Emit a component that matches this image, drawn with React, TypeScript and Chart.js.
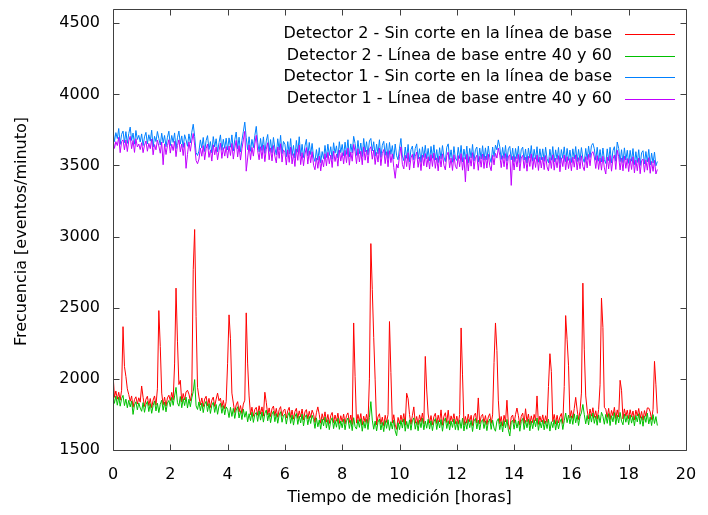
import { useEffect, useRef } from "react";
import { Chart, registerables } from "chart.js";

Chart.register(...registerables);

// time grid: one sample every 0.05 h (3 min), from 0 to 19 h
const STEP_HOURS = 0.05;
const X_TICKS = [0, 2, 4, 6, 8, 10, 12, 14, 16, 18, 20];
const Y_TICKS = [1500, 2000, 2500, 3000, 3500, 4000, 4500];
const X_TITLE = "Tiempo de medición [horas]";
const Y_TITLE = "Frecuencia [eventos/minuto]";

const LABEL_D2_RAW = "Detector 2 - Sin corte en la línea de base";
const LABEL_D2_CUT = "Detector 2 - Línea de base entre 40 y 60";
const LABEL_D1_RAW = "Detector 1 - Sin corte en la línea de base";
const LABEL_D1_CUT = "Detector 1 - Línea de base entre 40 y 60";

// Detector 2 - sin corte (red)
const det2Raw = [
  2041, 1870, 1915, 1857, 1906, 1850, 1920, 2367, 2087, 2017, 1930, 1890, 1842, 1880, 1800, 1855, 1874, 1823, 1867, 1836,
  1950, 1870, 1806, 1857, 1878, 1812, 1862, 1797, 1851, 1880, 1815, 1930, 2480, 2227, 1900, 1818, 1872, 1809, 1866, 1885,
  1847, 1905, 1853, 2105, 2638, 2265, 1960, 1990, 1838, 1897, 1852, 1908, 1920, 1893, 1845, 1902, 2767, 3050, 2439, 1940,
  1873, 1817, 1866, 1805, 1858, 1878, 1811, 1863, 1799, 1850, 1872, 1806, 1857, 1900, 1846, 1865, 1799, 1849, 1790, 1840,
  2110, 2450, 2282, 1900, 1830, 1763, 1817, 1840, 1768, 1812, 1756, 1823, 1850, 2464, 2105, 1880, 1748, 1801, 1737, 1786,
  1800, 1744, 1811, 1752, 1803, 1738, 1906, 1835, 1747, 1796, 1735, 1790, 1809, 1741, 1793, 1730, 1783, 1805, 1737, 1779,
  1787, 1725, 1776, 1800, 1729, 1781, 1717, 1770, 1793, 1722, 1775, 1732, 1788, 1711, 1768, 1784, 1719, 1772, 1728, 1780,
  1752, 1694, 1762, 1803, 1748, 1688, 1755, 1710, 1768, 1696, 1750, 1686, 1742, 1764, 1692, 1746, 1702, 1759, 1687, 1741,
  1698, 1752, 1684, 1742, 1761, 1693, 1746, 1679, 2393, 2016, 1689, 1750, 1701, 1756, 1675, 1738, 1695, 1751, 1686, 2000,
  2951, 2627, 2292, 1993, 1676, 1733, 1755, 1683, 1731, 1671, 1744, 1694, 1750, 2403, 2045, 1689, 1748, 1676, 1645, 1729,
  1685, 1745, 1696, 1756, 1674, 1899, 1860, 1749, 1681, 1742, 1803, 1688, 1736, 1677, 1747, 1699, 1760, 1684, 2158, 1922,
  1753, 1689, 1742, 1678, 1734, 1758, 1686, 1745, 1697, 1782, 1674, 1737, 1762, 1693, 1780, 1682, 1740, 1700, 1755, 1685,
  1738, 1681, 1749, 2358, 2028, 1676, 1736, 1688, 1752, 1699, 1744, 1672, 1740, 1759, 1690, 1866, 1683, 1735, 1751, 1693,
  1742, 1678, 1733, 1755, 1687, 1747, 2115, 2393, 2199, 1850, 1685, 1736, 1669, 1744, 1697, 1850, 1682, 1645, 1731, 1746,
  1688, 1749, 1795, 1741, 1674, 1737, 1759, 1686, 1790, 1698, 1753, 1677, 1740, 1692, 1750, 1705, 1880, 1680, 1738, 1697,
  1747, 1684, 1741, 1693, 1946, 2177, 2051, 1699, 1750, 1682, 1744, 1690, 1733, 1757, 1686, 1946, 2445, 2275, 2092, 1726,
  1777, 1722, 1791, 1870, 1782, 1714, 1773, 1900, 2673, 2204, 1880, 1780, 1718, 1788, 1738, 1797, 1729, 1776, 1716, 1784,
  1958, 2568, 2361, 1800, 1787, 1729, 1793, 1714, 1778, 1740, 1800, 1721, 1782, 1732, 1990, 1920, 1719, 1789, 1737, 1780,
  1720, 1783, 1731, 1774, 1712, 1780, 1739, 1792, 1723, 1771, 1709, 1777, 1736, 1796, 1795, 1768, 1714, 1786, 2123, 1958,
  1757,
];

// Detector 2 - línea de base entre 40 y 60 (green)
const det2Cut = [
  1890, 1828, 1879, 1815, 1872, 1808, 1861, 1884, 1812, 1858, 1797, 1849, 1803, 1845, 1750, 1816, 1839, 1782, 1831, 1795,
  1772, 1833, 1765, 1819, 1842, 1770, 1826, 1758, 1812, 1845, 1774, 1829, 1763, 1821, 1850, 1779, 1836, 1768, 1830, 1848,
  1805, 1870, 1814, 1880, 1940, 1832, 1808, 1876, 1797, 1861, 1812, 1872, 1795, 1857, 1804, 1866, 1910, 1995, 1810, 1785,
  1838, 1776, 1830, 1763, 1821, 1842, 1770, 1826, 1757, 1815, 1835, 1764, 1820, 1751, 1809, 1829, 1758, 1812, 1747, 1803,
  1786, 1728, 1800, 1736, 1793, 1722, 1781, 1804, 1725, 1776, 1714, 1787, 1730, 1771, 1698, 1755, 1706, 1765, 1694, 1750,
  1764, 1701, 1775, 1710, 1767, 1696, 1757, 1781, 1705, 1760, 1692, 1752, 1773, 1699, 1756, 1688, 1746, 1769, 1695, 1743,
  1751, 1682, 1740, 1764, 1687, 1745, 1675, 1733, 1757, 1680, 1738, 1690, 1752, 1669, 1731, 1748, 1677, 1736, 1686, 1744,
  1715, 1652, 1726, 1663, 1711, 1646, 1718, 1669, 1731, 1654, 1713, 1643, 1705, 1727, 1650, 1709, 1660, 1723, 1645, 1704,
  1656, 1716, 1642, 1705, 1725, 1651, 1709, 1636, 1727, 1664, 1647, 1713, 1659, 1720, 1632, 1701, 1653, 1715, 1644, 1729,
  1840, 1710, 1646, 1703, 1634, 1696, 1718, 1641, 1694, 1629, 1707, 1652, 1713, 1638, 1699, 1647, 1711, 1634, 1600, 1692,
  1643, 1708, 1654, 1719, 1632, 1701, 1650, 1712, 1639, 1705, 1726, 1646, 1699, 1635, 1710, 1657, 1723, 1642, 1703, 1653,
  1716, 1647, 1705, 1636, 1697, 1721, 1644, 1708, 1655, 1714, 1632, 1700, 1725, 1651, 1706, 1640, 1703, 1658, 1718, 1643,
  1701, 1639, 1712, 1652, 1724, 1634, 1699, 1646, 1715, 1657, 1707, 1630, 1703, 1722, 1648, 1710, 1641, 1698, 1714, 1651,
  1705, 1636, 1696, 1718, 1645, 1710, 1654, 1632, 1703, 1721, 1643, 1699, 1627, 1707, 1655, 1715, 1640, 1598, 1694, 1709,
  1646, 1712, 1654, 1704, 1632, 1700, 1722, 1644, 1708, 1656, 1716, 1635, 1703, 1650, 1713, 1663, 1725, 1638, 1701, 1655,
  1710, 1642, 1704, 1651, 1717, 1633, 1699, 1657, 1713, 1640, 1707, 1648, 1696, 1720, 1644, 1705, 1760, 1692, 1746, 1684,
  1740, 1680, 1754, 1691, 1745, 1672, 1736, 1761, 1820, 1748, 1684, 1743, 1676, 1751, 1696, 1760, 1687, 1739, 1674, 1747,
  1692, 1765, 1737, 1681, 1750, 1687, 1756, 1672, 1741, 1698, 1763, 1679, 1745, 1690, 1764, 1703, 1677, 1752, 1695, 1743,
  1678, 1746, 1689, 1737, 1670, 1743, 1697, 1755, 1681, 1734, 1667, 1740, 1694, 1759, 1683, 1731, 1672, 1749, 1686, 1735,
  1672,
];

// Detector 1 - sin corte (blue)
const det1Raw = [
  3752, 3668, 3731, 3689, 3760, 3648, 3719, 3742, 3661, 3738, 3655, 3724, 3770, 3676, 3728, 3650, 3746, 3683, 3712, 3665,
  3722, 3640, 3701, 3733, 3652, 3716, 3671, 3748, 3629, 3705, 3668, 3739, 3690, 3644, 3727, 3659, 3711, 3632, 3698, 3741,
  3640, 3711, 3662, 3729, 3618, 3695, 3742, 3651, 3708, 3627, 3716, 3680, 3635, 3722, 3659, 3734, 3790, 3705, 3590, 3570,
  3601, 3680, 3622, 3697, 3598, 3675, 3710, 3612, 3668, 3589, 3703, 3630, 3688, 3596, 3661, 3715, 3607, 3684, 3620, 3692,
  3610, 3694, 3628, 3715, 3602, 3680, 3735, 3617, 3699, 3596, 3676, 3738, 3805, 3695, 3611, 3702, 3600, 3683, 3625, 3710,
  3775, 3664, 3596, 3690, 3605, 3701, 3585, 3673, 3718, 3598, 3682, 3590, 3697, 3622, 3575, 3688, 3608, 3712, 3583, 3669,
  3650, 3561, 3668, 3580, 3689, 3570, 3641, 3552, 3676, 3593, 3702, 3565, 3649, 3556, 3637, 3684, 3568, 3662, 3577, 3655,
  3560, 3528, 3612, 3537, 3625, 3519, 3598, 3548, 3641, 3556, 3650, 3570, 3632, 3544, 3660, 3586, 3638, 3553, 3667, 3590,
  3648, 3569, 3664, 3578, 3681, 3560, 3652, 3588, 3705, 3655, 3571, 3676, 3583, 3658, 3563, 3690, 3595, 3667, 3575, 3672,
  3690, 3602, 3667, 3565, 3650, 3582, 3681, 3557, 3642, 3670, 3571, 3655, 3549, 3662, 3578, 3640, 3545, 3651, 3568, 3540,
  3622, 3690, 3566, 3534, 3630, 3550, 3648, 3526, 3611, 3637, 3540, 3620, 3652, 3545, 3618, 3522, 3631, 3556, 3642, 3547,
  3620, 3533, 3634, 3551, 3645, 3538, 3612, 3520, 3625, 3547, 3640, 3560, 3527, 3628, 3652, 3542, 3610, 3523, 3633, 3552,
  3535, 3628, 3549, 3641, 3525, 3615, 3544, 3636, 3519, 3620, 3553, 3648, 3532, 3611, 3630, 3524, 3622, 3546, 3639, 3537,
  3624, 3540, 3637, 3556, 3521, 3630, 3562, 3643, 3610, 3680, 3631, 3543, 3627, 3549, 3641, 3531, 3618, 3634, 3540, 3622,
  3526, 3620, 3547, 3635, 3520, 3611, 3629, 3538, 3616, 3518, 3623, 3551, 3640, 3530, 3614, 3544, 3632, 3523, 3617, 3540,
  3617, 3529, 3628, 3548, 3519, 3614, 3537, 3633, 3525, 3610, 3542, 3627, 3514, 3612, 3550, 3631, 3527, 3620, 3536, 3608,
  3521, 3617, 3546, 3633, 3527, 3613, 3535, 3626, 3551, 3522, 3620, 3541, 3636, 3556, 3640, 3655, 3618, 3537, 3628, 3530,
  3612, 3525, 3623, 3541, 3514, 3617, 3534, 3628, 3518, 3604, 3632, 3530, 3665, 3620, 3527, 3611, 3520, 3624, 3538, 3607,
  3515, 3606, 3530, 3619, 3506, 3597, 3521, 3611, 3500, 3590, 3604, 3511, 3598, 3525, 3613, 3503, 3587, 3517, 3594, 3498,
  3528,
];

// Detector 1 - línea de base entre 40 y 60 (purple)
const det1Cut = [
  3690, 3620, 3668, 3640, 3698, 3590, 3667, 3680, 3610, 3679, 3598, 3672, 3705, 3618, 3676, 3592, 3688, 3630, 3651, 3612,
  3660, 3590, 3643, 3672, 3600, 3655, 3618, 3685, 3575, 3647, 3610, 3678, 3637, 3586, 3665, 3505, 3652, 3577, 3640, 3681,
  3587, 3650, 3605, 3670, 3562, 3641, 3680, 3596, 3651, 3570, 3660, 3480, 3578, 3666, 3600, 3672, 3725, 3643, 3535, 3512,
  3545, 3622, 3565, 3640, 3540, 3618, 3651, 3557, 3610, 3531, 3645, 3575, 3630, 3540, 3603, 3657, 3550, 3626, 3566, 3633,
  3552, 3637, 3570, 3655, 3545, 3622, 3676, 3560, 3640, 3538, 3617, 3680, 3740, 3460, 3553, 3645, 3541, 3627, 3566, 3651,
  3712, 3603, 3540, 3632, 3548, 3643, 3527, 3615, 3660, 3540, 3624, 3532, 3640, 3565, 3518, 3630, 3550, 3653, 3524, 3610,
  3591, 3503, 3610, 3522, 3630, 3511, 3583, 3493, 3617, 3536, 3644, 3506, 3590, 3498, 3580, 3626, 3510, 3603, 3519, 3597,
  3502, 3470, 3553, 3480, 3566, 3462, 3540, 3490, 3583, 3498, 3592, 3512, 3574, 3486, 3601, 3528, 3580, 3495, 3608, 3531,
  3590, 3511, 3606, 3520, 3622, 3502, 3594, 3530, 3648, 3597, 3513, 3618, 3525, 3600, 3505, 3631, 3537, 3609, 3517, 3613,
  3632, 3544, 3609, 3507, 3592, 3524, 3623, 3499, 3584, 3612, 3513, 3597, 3491, 3604, 3520, 3582, 3487, 3410, 3510, 3482,
  3564, 3631, 3508, 3476, 3572, 3492, 3590, 3468, 3553, 3579, 3482, 3562, 3594, 3487, 3560, 3464, 3573, 3498, 3584, 3489,
  3562, 3475, 3576, 3493, 3587, 3480, 3554, 3462, 3567, 3489, 3582, 3502, 3469, 3570, 3594, 3484, 3552, 3465, 3575, 3494,
  3477, 3570, 3491, 3583, 3467, 3557, 3385, 3578, 3461, 3562, 3495, 3590, 3474, 3553, 3572, 3466, 3564, 3488, 3581, 3479,
  3566, 3482, 3579, 3498, 3463, 3572, 3504, 3585, 3552, 3622, 3573, 3485, 3569, 3491, 3583, 3473, 3560, 3576, 3360, 3564,
  3468, 3562, 3489, 3577, 3462, 3553, 3571, 3480, 3558, 3460, 3565, 3493, 3582, 3472, 3556, 3486, 3574, 3465, 3559, 3482,
  3559, 3471, 3570, 3490, 3461, 3556, 3479, 3575, 3467, 3552, 3484, 3569, 3456, 3554, 3492, 3573, 3469, 3562, 3478, 3550,
  3463, 3559, 3488, 3575, 3469, 3555, 3477, 3568, 3493, 3464, 3562, 3483, 3578, 3498, 3582, 3597, 3560, 3479, 3570, 3472,
  3554, 3467, 3565, 3483, 3440, 3559, 3476, 3570, 3460, 3546, 3574, 3472, 3607, 3562, 3469, 3553, 3462, 3566, 3480, 3549,
  3457, 3548, 3472, 3561, 3448, 3539, 3463, 3553, 3442, 3532, 3546, 3453, 3540, 3467, 3555, 3445, 3529, 3459, 3536, 3440,
  3472,
];

const FONT = "'DejaVu Sans', 'Liberation Sans', Arial, sans-serif";
const FONT_SIZE = 16;
const FRAME_COLOR = "#404040";

const toPoints = (arr: number[]) => arr.map((v, i) => ({ x: i * STEP_HOURS, y: v }));

const framePlugin = {
  id: "gnuplotFrame",
  afterDraw(chart: any) {
    const { ctx, chartArea } = chart;
    const xs = chart.scales.x;
    const ys = chart.scales.y;
    const L = Math.round(chartArea.left) + 0.5;
    const R = Math.round(chartArea.right) + 0.5;
    const T = Math.round(chartArea.top) + 0.5;
    const B = Math.round(chartArea.bottom) + 0.5;
    const tick = 6;
    ctx.save();
    ctx.strokeStyle = FRAME_COLOR;
    ctx.lineWidth = 1;
    ctx.beginPath();
    ctx.rect(L, T, R - L, B - T);
    for (const v of X_TICKS) {
      const px = Math.round(xs.getPixelForValue(v)) + 0.5;
      ctx.moveTo(px, B);
      ctx.lineTo(px, B - tick);
      ctx.moveTo(px, T);
      ctx.lineTo(px, T + tick);
    }
    for (const v of Y_TICKS) {
      const py = Math.round(ys.getPixelForValue(v)) + 0.5;
      ctx.moveTo(L, py);
      ctx.lineTo(L + tick, py);
      ctx.moveTo(R, py);
      ctx.lineTo(R - tick, py);
    }
    ctx.stroke();

    // axis titles
    ctx.fillStyle = "#000";
    ctx.font = `${FONT_SIZE}px ${FONT}`;
    ctx.textAlign = "center";
    ctx.textBaseline = "middle";
    ctx.fillText(X_TITLE, (chartArea.left + chartArea.right) / 2, 498);
    ctx.save();
    ctx.translate(22, (chartArea.top + chartArea.bottom) / 2 + 2);
    ctx.rotate(-Math.PI / 2);
    ctx.fillText(Y_TITLE, 0, 0);
    ctx.restore();

    // gnuplot-style key (top right, text right-aligned, sample on the right)
    const rows = chart.data.datasets;
    const rowY = [34, 55.5, 77, 98.5];
    ctx.textAlign = "right";
    rows.forEach((ds: any, i: number) => {
      const y = rowY[i];
      ctx.fillStyle = "#000";
      ctx.fillText(ds.label, 612, y);
      ctx.strokeStyle = ds.borderColor;
      ctx.lineWidth = 1.2;
      ctx.beginPath();
      ctx.moveTo(625, Math.round(y) + 0.5);
      ctx.lineTo(675, Math.round(y) + 0.5);
      ctx.stroke();
    });
    ctx.restore();
  },
};

export default function App() {
  const ref = useRef<HTMLCanvasElement>(null);

  useEffect(() => {
    if (!ref.current) return;
    const chart = new Chart(ref.current, {
      type: "line",
      data: {
        datasets: [
          { label: LABEL_D2_RAW, data: toPoints(det2Raw), borderColor: "#ff0000", order: 4 },
          { label: LABEL_D2_CUT, data: toPoints(det2Cut), borderColor: "#00c000", order: 3 },
          { label: LABEL_D1_RAW, data: toPoints(det1Raw), borderColor: "#0080ff", order: 2 },
          { label: LABEL_D1_CUT, data: toPoints(det1Cut), borderColor: "#c000ff", order: 1 },
        ] as any,
      },
      options: {
        responsive: false,
        animation: false,
        devicePixelRatio: 1,
        layout: { padding: { top: 9, right: 22, left: 0, bottom: 0 } },
        plugins: { legend: { display: false }, tooltip: { enabled: false }, title: { display: false } },
        elements: {
          point: { radius: 0 },
          line: { borderWidth: 1, tension: 0, fill: false },
        },
        scales: {
          x: {
            type: "linear",
            min: 0,
            max: 20,
            afterBuildTicks: (s: any) => {
              s.ticks = X_TICKS.map((v) => ({ value: v }));
            },
            afterFit: (s: any) => {
              s.height = 65;
              s.paddingLeft = 0;
              s.paddingRight = 0;
            },
            ticks: {
              font: { family: FONT, size: FONT_SIZE },
              color: "#000",
              padding: 15,
              maxRotation: 0,
              autoSkip: false,
              callback: (v: any) => String(v),
            },
            grid: { display: false, drawTicks: false },
            border: { display: false },
          },
          y: {
            type: "linear",
            min: 1500,
            max: 4600,
            afterBuildTicks: (s: any) => {
              s.ticks = Y_TICKS.map((v) => ({ value: v }));
            },
            afterFit: (s: any) => {
              s.width = 113;
              s.paddingTop = 0;
              s.paddingBottom = 0;
            },
            ticks: {
              font: { family: FONT, size: FONT_SIZE },
              color: "#000",
              padding: 13,
              autoSkip: false,
              callback: (v: any) => String(v),
            },
            grid: { display: false, drawTicks: false },
            border: { display: false },
          },
        },
      } as any,
      plugins: [framePlugin],
    });
    return () => chart.destroy();
  }, []);

  return (
    <canvas
      ref={ref}
      width={708}
      height={515}
      style={{ position: "absolute", left: 0, top: 0, width: 708, height: 515, display: "block" }}
    />
  );
}
